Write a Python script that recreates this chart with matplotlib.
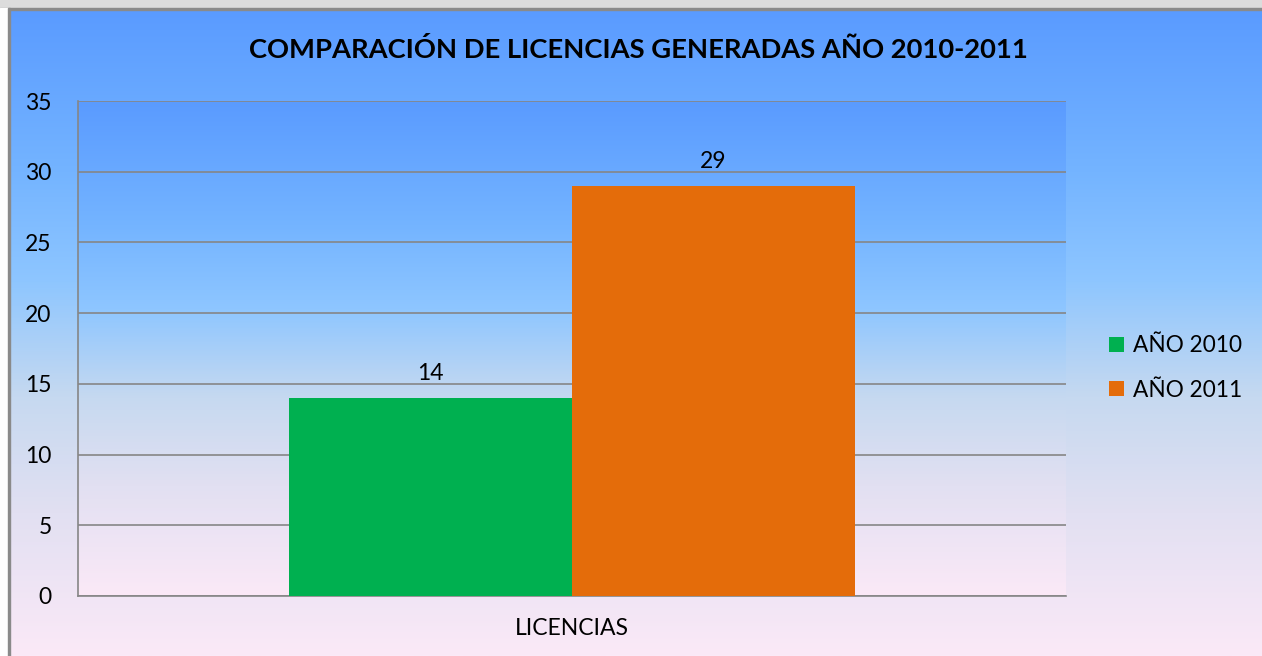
import numpy as np
import matplotlib.pyplot as plt
from matplotlib.colors import LinearSegmentedColormap
from matplotlib.patches import Rectangle

plt.rcParams['font.family'] = ['Lato', 'DejaVu Sans']

categories = ['LICENCIAS']
series = ['AÑO 2010', 'AÑO 2011']
values_2010 = [14]
values_2011 = [29]
colors = ['#00b050', '#e46c0a']

# blue-to-pink background like the Excel preset
bg = LinearSegmentedColormap.from_list('bg', [
    (0.0, '#5a9bff'), (0.25, '#74b4ff'), (0.42, '#8ec6ff'),
    (0.6, '#c6d9f0'), (0.78, '#e2e0f2'), (1.0, '#fbe9f7')])
grad = np.linspace(0, 1, 256).reshape(-1, 1)

fig = plt.figure(figsize=(12.62, 6.56), dpi=100)
bgax = fig.add_axes([0, 0, 1, 1], zorder=-10)
bgax.imshow(grad, cmap=bg, aspect='auto', extent=[0, 1, 0, 1 - 10 / 656])
bgax.set_xlim(0, 1)
bgax.set_ylim(0, 1)
bgax.axis('off')
# window frame at top and left
fig.patches.append(Rectangle((0, 1 - 8 / 656), 1, 8 / 656, transform=fig.transFigure,
                             color='#dcdcdc', zorder=-5))
fig.patches.append(Rectangle((0, 1 - 10 / 656), 1, 2 / 656, transform=fig.transFigure,
                             color='#8a8a8a', zorder=-5))
fig.patches.append(Rectangle((0, 0), 8 / 1262, 1 - 8 / 656, transform=fig.transFigure,
                             color='white', zorder=-5))
fig.patches.append(Rectangle((8 / 1262, 0), 2 / 1262, 1 - 8 / 656, transform=fig.transFigure,
                             color='#8a8a8a', zorder=-5))

ax = fig.add_axes([78 / 1262, (656 - 596) / 656, (1066 - 78) / 1262, (596 - 101) / 656])
ax.patch.set_alpha(0)
ax.imshow(grad, cmap=bg, aspect='auto', extent=[0, 1, 0, 1], transform=ax.transAxes, zorder=-3)

x = np.arange(len(categories))
w = 0.2865
b1 = ax.bar(x - w / 2, values_2010, w, color=colors[0], label=series[0], zorder=3)
b2 = ax.bar(x + w / 2, values_2011, w, color=colors[1], label=series[1], zorder=3)
for bars in (b1, b2):
    ax.bar_label(bars, padding=10, fontsize=16.5)

ax.set_xlim(-0.5, 0.5)
ax.set_ylim(0, 35)
ax.set_yticks(range(0, 36, 5))
ax.set_xticks(x)
ax.set_xticklabels(categories)
ax.tick_params(axis='both', length=0, labelsize=16.5)
ax.tick_params(axis='y', pad=19)
ax.tick_params(axis='x', pad=16)
ax.yaxis.grid(True, color='#868686', linewidth=1.2, zorder=1)
ax.set_axisbelow(True)
for s in ['top', 'right']:
    ax.spines[s].set_visible(False)
for s in ['left', 'bottom']:
    ax.spines[s].set_color('#868686')
    ax.spines[s].set_linewidth(1.2)

fig.text(638 / 1262, 1 - 49 / 656, 'COMPARACIÓN DE LICENCIAS GENERADAS AÑO 2010-2011',
         ha='center', va='center', fontsize=19.7, fontweight='bold')

fig.legend(loc='center left', bbox_to_anchor=(1089 / 1262, 1 - 368 / 656), frameon=False,
           fontsize=16.3, handlelength=0.65, handleheight=0.65, handletextpad=0.4,
           labelspacing=1.05)

fig.savefig('out.png', dpi=100)
